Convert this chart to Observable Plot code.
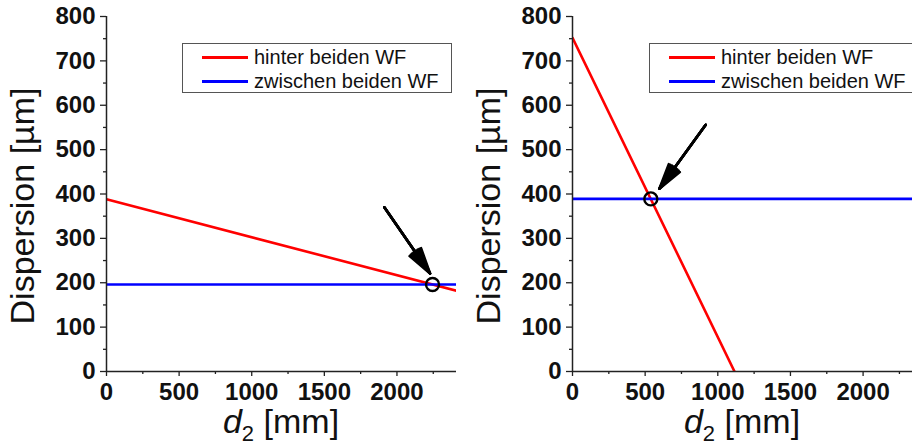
<!DOCTYPE html>
<html><head><meta charset="utf-8">
<script src="https://cdn.jsdelivr.net/npm/d3@7"></script>
<script src="https://cdn.jsdelivr.net/npm/@observablehq/plot@0.6"></script>
<style>
body{margin:0;background:#fff;font-family:"Liberation Sans",Arial,sans-serif}
#row{display:flex;width:912px;height:448px}
.panel{position:relative;width:456px;height:448px;overflow:hidden}
.legend{position:absolute;border:1px solid #555;background:#fff;height:50px;box-sizing:border-box}
.item{position:absolute;font-size:20px;color:#111;white-space:nowrap;line-height:20px}
.swatch{position:absolute;height:0;border-top:3px solid}
</style></head>
<body><div id="row"></div>
<script>
// ---- data ----
const seriesNames = ["hinter beiden WF", "zwischen beiden WF"];
const seriesColors = ["#ff0000", "#0000ff"];
const yTicks = [0, 100, 200, 300, 400, 500, 600, 700, 800];
const yMinorTicks = [50, 150, 250, 350, 450, 550, 650, 750];
const xTicks = [0, 500, 1000, 1500, 2000];
const xMinorTicks = [250, 750, 1250, 1750, 2250];

// left panel
const leftRedD2 = [0, 2410];
const leftRedDisp = [388, 182];
const leftBlueD2 = [0, 2410];
const leftBlueDisp = [196, 196];
const leftMarker = [2245, 196];
const leftArrow = [1913, 370, 2228, 221];

// right panel
const rightRedD2 = [0, 1115];
const rightRedDisp = [752, 0];
const rightBlueD2 = [0, 2340];
const rightBlueDisp = [389, 389];
const rightMarker = [539, 389];
const rightArrow = [917, 556, 598, 412];

const headAngles = [30, 22, 14, 6];

function panel(cfg) {
  const red = cfg.redX.map((x, i) => ({x, y: cfg.redY[i]}));
  const blue = cfg.blueX.map((x, i) => ({x, y: cfg.blueY[i]}));
  const ml = cfg.marginLeft, W = 456, H = 448, mt = 16, mb = 77;
  const fmt = d => String(d);
  const arrowMarks = headAngles.map(a =>
    Plot.arrow([cfg.arrow], {x1: d => d[0], y1: d => d[1], x2: d => d[2], y2: d => d[3], stroke: "#000", strokeWidth: 2.6, headLength: 16, headAngle: a}));
  const plot = Plot.plot({
    width: W, height: H,
    marginLeft: ml, marginRight: 0, marginTop: mt, marginBottom: mb,
    style: {fontFamily: "'Liberation Sans', Arial, sans-serif", background: "#fff"},
    x: {domain: [0, cfg.xMax]},
    y: {domain: [0, 800]},
    marks: [
      Plot.line(red, {x: "x", y: "y", stroke: seriesColors[0], strokeWidth: 2.6, clip: true}),
      Plot.line(blue, {x: "x", y: "y", stroke: seriesColors[1], strokeWidth: 2.6, clip: true}),
      Plot.axisY({ticks: yTicks, tickFormat: fmt, tickSize: 6, tickPadding: 5, fontSize: 24, fontWeight: "bold", label: null, stroke: "#222", strokeWidth: 1.3, color: "#111"}),
      Plot.axisY({ticks: yMinorTicks, tickSize: 3, tickFormat: () => "", label: null, stroke: "#222", strokeWidth: 1.3}),
      Plot.axisX({ticks: xTicks, tickFormat: fmt, tickSize: 5, tickPadding: 6, fontSize: 24, fontWeight: "bold", label: null, stroke: "#222", strokeWidth: 1.3, color: "#111"}),
      Plot.axisX({ticks: xMinorTicks, tickSize: 3, tickFormat: () => "", label: null, stroke: "#222", strokeWidth: 1.3}),
      Plot.ruleX([0], {stroke: "#222", strokeWidth: 1.5}),
      Plot.ruleY([0], {stroke: "#222", strokeWidth: 1.5}),
      Plot.text(["Dispersion [µm]"], {frameAnchor: "left", textAnchor: "middle", rotate: -90, dx: -83, dy: 12, fontSize: 34, fill: "#111"}),
      ...arrowMarks,
      Plot.dot([cfg.marker], {x: d => d[0], y: d => d[1], r: 6.5, stroke: "#000", strokeWidth: 2.4, fill: "none"})
    ]
  });
  // x axis label with italic d and subscript 2
  const cx = (ml + W) / 2;
  const t = d3.select(plot).append("text")
    .attr("x", cx).attr("y", 433).attr("text-anchor", "middle")
    .attr("font-size", 34).attr("fill", "#111");
  t.append("tspan").attr("font-style", "italic").text("d");
  t.append("tspan").attr("font-size", 22).attr("dy", 8).text("2");
  t.append("tspan").attr("dy", -8).text(" [mm]");

  const div = document.createElement("div");
  div.className = "panel";
  div.appendChild(plot);
  const lg = document.createElement("div");
  lg.className = "legend";
  lg.style.left = cfg.legend.left + "px";
  lg.style.top = "43px";
  lg.style.width = cfg.legend.width + "px";
  seriesNames.forEach((name, i) => {
    const sw = document.createElement("div");
    sw.className = "swatch";
    sw.style.borderColor = seriesColors[i];
    sw.style.left = "19px"; sw.style.width = "46px";
    sw.style.top = (12 + i * 24) + "px";
    lg.appendChild(sw);
    const it = document.createElement("div");
    it.className = "item";
    it.style.left = "71px";
    it.style.top = (3 + i * 24) + "px";
    it.textContent = name;
    lg.appendChild(it);
  });
  div.appendChild(lg);
  return div;
}

const row = document.getElementById("row");
row.appendChild(panel({marginLeft: 106, xMax: 2410, redX: leftRedD2, redY: leftRedDisp, blueX: leftBlueD2, blueY: leftBlueDisp, marker: leftMarker, arrow: leftArrow, legend: {left: 182, width: 270}}));
row.appendChild(panel({marginLeft: 116, xMax: 2340, redX: rightRedD2, redY: rightRedDisp, blueX: rightBlueD2, blueY: rightBlueDisp, marker: rightMarker, arrow: rightArrow, legend: {left: 193, width: 290}}));
</script>
</body></html>
